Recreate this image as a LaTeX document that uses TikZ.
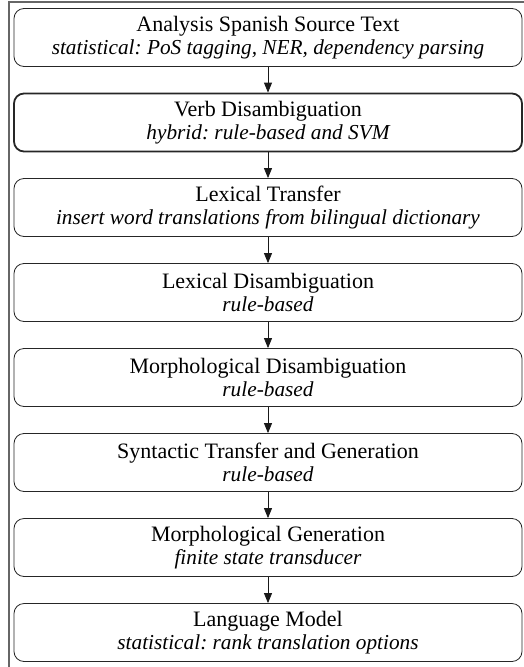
\documentclass[tikz,border=0pt]{standalone}
\usepackage{fontspec}
\setmainfont{Liberation Serif}
\usetikzlibrary{arrows.meta}
\frenchspacing
% second line of each stage: the method it uses
\newcommand\stagemethod[1]{{\fontsize{21.3}{22.5}\selectfont\itshape #1}}
\begin{document}
\begin{tikzpicture}[x=1pt,y=1pt,
  stage/.style={draw=black!85, line width=0.8pt, rounded corners=10pt,
    minimum width=508pt, minimum height=58pt, inner sep=0pt,
    align=center, font=\fontsize{22}{22.5}\selectfont},
  keystage/.style={stage, line width=1.8pt},
  flow/.style={-{Triangle[length=10pt,width=8pt]}, line width=0.8pt, black!90}]
\useasboundingbox (0,0) rectangle (524,-667);
% enclosing frame
\draw[black!60, line width=2pt] (8.5,-1.5) rectangle (560,-700);
% pipeline stages
\node[stage]    (s1) at (268,-37.5)  {Analysis Spanish Source Text\\\stagemethod{statistical: PoS tagging, NER, dependency parsing}};
\node[keystage] (s2) at (268,-122.5) {Verb Disambiguation\\\stagemethod{hybrid: rule-based and SVM}};
\node[stage]    (s3) at (268,-207.5) {Lexical Transfer\\\stagemethod{insert word translations from bilingual dictionary}};
\node[stage]    (s4) at (268,-292.5) {Lexical Disambiguation\\\stagemethod{rule-based}};
\node[stage]    (s5) at (268,-377.5) {Morphological Disambiguation\\\stagemethod{rule-based}};
\node[stage]    (s6) at (268,-462.5) {Syntactic Transfer and Generation\\\stagemethod{rule-based}};
\node[stage]    (s7) at (268,-547.5) {Morphological Generation\\\stagemethod{finite state transducer}};
\node[stage]    (s8) at (268,-632.5) {Language Model\\\stagemethod{statistical: rank translation options}};
% flow between stages
\foreach \a/\b in {s1/s2,s2/s3,s3/s4,s4/s5,s5/s6,s6/s7,s7/s8}
  \draw[flow] (\a) -- (\b);
\end{tikzpicture}
\end{document}
